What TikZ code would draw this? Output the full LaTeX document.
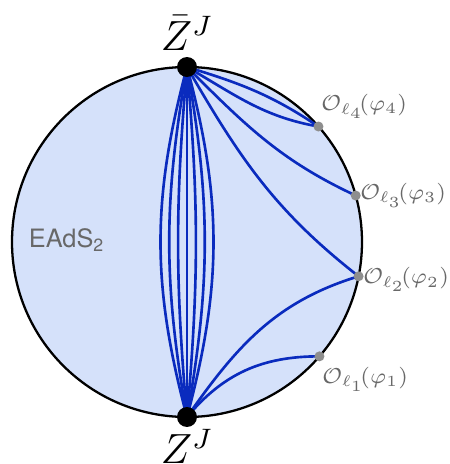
\documentclass[tikz,border=0pt]{standalone}
\usepackage{amsmath, amssymb}
\usepackage{fontspec}
\newfontfamily\herosfont{TeX Gyre Heros}
\usepackage{xcolor}
\definecolor{EAdSfill}{HTML}{D5E1FA}
\definecolor{EAdSblue}{HTML}{0A2BBE}
\definecolor{EAdSdot}{HTML}{8E8E8E}
\definecolor{EAdStext}{HTML}{686868}
\usepackage{tikz}
\usetikzlibrary{calc, positioning}

\begin{document}
\begin{tikzpicture}[x=1cm, y=1cm]
  \tikzset{
    geod/.style={EAdSblue, line width=0.75pt},
    rim/.style={draw=black, line width=0.65pt, fill=EAdSfill},
    endpt/.style={circle, fill=black, inner sep=0pt, minimum size=0.2cm},
    insdot/.style={circle, fill=EAdSdot, inner sep=0pt, minimum size=0.1cm},
    oplab/.style={EAdStext, inner sep=1pt, font=\scriptsize, scale=0.88, transform shape},
    zlab/.style={inner sep=0pt, font=\fontsize{11.5}{13}\selectfont},
  }
  \useasboundingbox (0,0) rectangle (4.49,4.64);

  % Euclidean AdS_2 disc
  \coordinate (c) at (1.87,2.22);
  \draw[rim] (c) circle (1.75);
  \node[EAdStext, font=\herosfont\fontsize{7.2}{9}\selectfont] (eads) at ($(c)+(-1.2,0.02)$) {EAdS\textsubscript{2}};

  % boundary points
  \coordinate (top) at ($(c)+(90:1.75)$);
  \coordinate (bot) at ($(c)+(-90:1.75)$);
  \coordinate (p4) at ($(c)+(41.3:1.75)$);
  \coordinate (p3) at ($(c)+(15.4:1.75)$);
  \coordinate (p2) at ($(c)+(-11.3:1.75)$);
  \coordinate (p1) at ($(c)+(-40.8:1.75)$);

  % lens of curves between the two end points
  \draw[geod] (top) -- (bot);
  \foreach \b in {5,10,15} {
    \draw[geod] (top) to[bend left=\b] (bot);
    \draw[geod] (top) to[bend right=\b] (bot);
  }

  % curves to the operator insertions
  \draw[geod] (top) to[out=-17, in=146] (p4);
  \draw[geod] (top) to[out=-30, in=170] (p4);
  \draw[geod] (top) to[out=-45, in=155] (p3);
  \draw[geod] (top) to[out=-60, in=142] (p2);
  \draw[geod] (bot) to[out=55, in=197] (p2);
  \draw[geod] (bot) to[out=50, in=180] (p1);

  % insertions and labels
  \node[insdot] (i4) at (p4) {};
  \node[insdot] (i3) at (p3) {};
  \node[insdot] (i2) at (p2) {};
  \node[insdot] (i1) at (p1) {};
  \node[oplab, above right=0cm and -0.05cm of i4] (o4) {$\mathcal{O}_{\ell_4}\!(\varphi_4)$};
  \node[oplab, right=-0.05cm of i3] (o3) {$\mathcal{O}_{\ell_3}\!(\varphi_3)$};
  \node[oplab, right=-0.05cm of i2, yshift=-0.4mm] (o2) {$\mathcal{O}_{\ell_2}\!(\varphi_2)$};
  \node[oplab, below right=0.03cm and -0.05cm of i1] (o1) {$\mathcal{O}_{\ell_1}\!(\varphi_1)$};

  % end points
  \node[endpt] (ztop) at (top) {};
  \node[endpt] (zbot) at (bot) {};
  \node[zlab, above=0.05cm of ztop] (zbar) {$\bar{Z}^J$};
  \node[zlab, below=0.01cm of zbot] (z) {$Z^J$};

\end{tikzpicture}
\end{document}
